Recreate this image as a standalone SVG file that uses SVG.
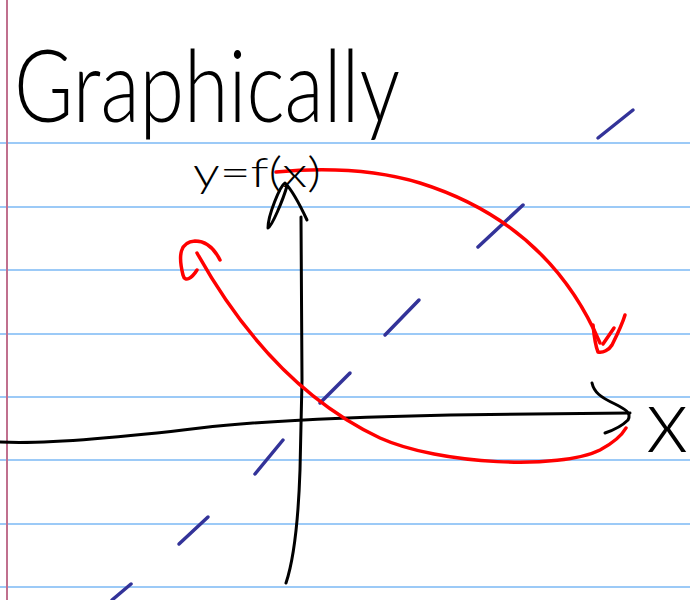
<svg xmlns="http://www.w3.org/2000/svg" width="690" height="600" viewBox="0 0 690 600">
<style>
.rule{stroke:#9ccaf7;stroke-width:2}
.ink{fill:none;stroke:#000;stroke-width:3;stroke-linecap:round;stroke-linejoin:round}
.red{fill:none;stroke:#ff0000;stroke-width:3.5;stroke-linecap:round;stroke-linejoin:round}
.blue{stroke:#333399;stroke-width:3.5;stroke-linecap:round}
.hand{font-family:"Lato","Inter","DejaVu Sans",sans-serif;font-weight:300;fill:#000}
</style>
<rect width="690" height="600" fill="#fff"/>
<g id="paper">
<line class="rule" x1="0" y1="143" x2="690" y2="143"/>
<line class="rule" x1="0" y1="207" x2="690" y2="207"/>
<line class="rule" x1="0" y1="270" x2="690" y2="270"/>
<line class="rule" x1="0" y1="334" x2="690" y2="334"/>
<line class="rule" x1="0" y1="397" x2="690" y2="397"/>
<line class="rule" x1="0" y1="460" x2="690" y2="460"/>
<line class="rule" x1="0" y1="524" x2="690" y2="524"/>
<line class="rule" x1="0" y1="587" x2="690" y2="587"/>
<line x1="7" y1="0" x2="7" y2="600" stroke="#c0708e" stroke-width="2"/>
</g>
<g id="identity-line">
<line class="blue" x1="112" y1="600" x2="131" y2="584"/>
<line class="blue" x1="179" y1="544" x2="208" y2="517"/>
<line class="blue" x1="255" y1="474" x2="283" y2="440"/>
<line class="blue" x1="320" y1="403" x2="350" y2="373"/>
<line class="blue" x1="385" y1="335" x2="419" y2="300"/>
<line class="blue" x1="478" y1="247" x2="523" y2="205"/>
<line class="blue" x1="598" y1="138" x2="633" y2="110"/>
</g>
<g id="x-axis">
<path class="ink" d="M0,442 C40,444 100,440 200,428 C260,421 350,417 450,415 L630,413"/>
<path class="ink" d="M592,383 C594,392 600,397 615,404 C625,409 632,413 628,420 C622,426 614,430 605,433"/>
</g>
<g id="y-axis">
<path class="ink" d="M286,583 C292,565 298,530 300,470 L302,380 L301,217"/>
<path class="ink" d="M307,220 C300,205 292,190 285,183 C280,186 268,215 268,228 C272,226 283,200 287,186"/>
</g>
<g id="connectors">
<path class="red" d="M276,172 C320,168 370,168 420,183 C490,205 560,250 600,343"/>
<path class="red" d="M593,325 C594,335 595,345 598,352 C603,353 609,350 612,345 C617,335 622,325 625,315"/>
<path class="red" d="M603,344 L614,328"/>
<path class="red" d="M197,253 C240,330 300,400 380,438 C440,465 560,470 600,450 C615,442 622,435 626,428"/>
<path class="red" d="M220,260 C215,250 207,241 195,241 C180,242 178,255 183,275 C185,283 192,278 197,270"/>
</g>
<g id="title">
<text class="hand" x="14" y="122" font-size="100" textLength="386" lengthAdjust="spacingAndGlyphs">Graphically</text>
</g>
<g id="label-y">
<text class="hand" x="193" y="187" font-size="42" textLength="128" lengthAdjust="spacingAndGlyphs">y=f(x)</text>
</g>
<g id="label-x">
<text class="hand" x="646" y="452" font-size="90">x</text>
</g>
</svg>
